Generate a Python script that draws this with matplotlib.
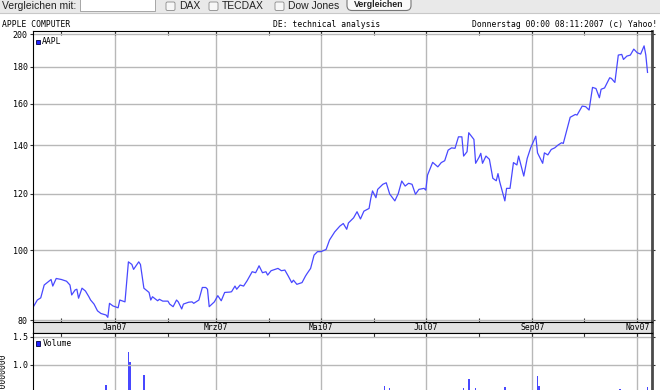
import pandas as pd
import matplotlib
matplotlib.use("Agg")
import matplotlib.pyplot as plt
import matplotlib.dates as mdates
import matplotlib.transforms as mtransforms
from matplotlib.patches import Rectangle, FancyBboxPatch

# Kursverlauf AAPL: Tage ab 01.01.2007 und Schlusskurs (USD)
tage = [-47, -45, -43, -41, -37, -36, -34, -31, -28, -26,
        -25, -23, -22, -21, -19, -17, -15, -14, -12, -10,
        -8, -5, -4, -3, -1, 2, 3, 6, 8, 10,
        11, 14, 15, 17, 20, 21, 22, 25, 26, 28,
        31, 32, 34, 36, 37, 39, 40, 43, 45, 46,
        49, 51, 53, 54, 55, 58, 60, 62, 64, 67,
        68, 70, 71, 73, 75, 77, 80, 82, 83, 84,
        86, 88, 89, 91, 95, 97, 99, 101, 103, 104,
        106, 109, 111, 112, 114, 116, 118, 120, 123, 125,
        128, 131, 133, 135, 136, 139, 141, 143, 145, 148,
        149, 150, 152, 153, 156, 158, 160, 163, 165, 167,
        169, 171, 173, 175, 177, 180, 181, 182, 185, 188,
        190, 192, 194, 196, 198, 200, 202, 203, 205, 206,
        209, 210, 212, 213, 214, 216, 218, 220, 222, 223,
        224, 227, 228, 230, 232, 234, 235, 238, 240, 242,
        245, 246, 249, 250, 252, 254, 256, 258, 260, 261,
        265, 268, 269, 272, 274, 276, 278, 280, 282, 283,
        285, 288, 289, 291, 293, 295, 296, 298, 300, 302,
        304, 306, 308, 309, 310]
kurs = [83.7, 85.3, 85.9, 89.5, 91.1, 89.2, 91.4, 91.1, 90.6, 89.5,
        86.7, 88.1, 88.3, 85.8, 88.6, 87.8, 86.2, 85.3, 84.2, 82.4,
        81.7, 81.3, 80.7, 84.4, 83.7, 83.2, 85.3, 84.8, 96.4, 95.6,
        94.1, 96.4, 95.6, 88.6, 87.4, 85.3, 86.2, 85.1, 85.5, 85.0,
        85.0, 84.2, 83.5, 85.3, 84.8, 82.9, 84.2, 84.7, 84.8, 84.4,
        85.3, 88.8, 88.8, 88.3, 83.5, 84.8, 86.5, 85.1, 87.4, 87.5,
        87.6, 89.2, 88.3, 89.5, 89.2, 90.7, 93.4, 93.1, 94.1, 95.2,
        93.1, 93.4, 92.4, 93.7, 94.4, 93.7, 93.9, 92.1, 90.2, 90.9,
        89.7, 90.2, 92.1, 92.9, 94.4, 98.5, 99.6, 99.6, 100.3, 103.4,
        106.1, 108.1, 109.0, 107.0, 109.2, 111.0, 113.2, 110.6, 113.4, 114.4,
        118.1, 121.0, 118.4, 121.6, 123.6, 124.2, 119.8, 117.2, 120.0, 124.9,
        122.9, 124.0, 123.6, 119.7, 121.6, 122.0, 121.3, 127.3, 132.6, 130.7,
        132.5, 133.3, 137.9, 138.9, 138.7, 143.9, 143.9, 135.3, 137.2, 145.8,
        142.7, 132.2, 134.8, 136.5, 132.2, 135.3, 133.9, 126.0, 125.0, 127.9,
        124.6, 117.2, 122.0, 122.0, 132.5, 131.5, 135.3, 126.9, 134.3, 138.9,
        144.2, 136.7, 132.2, 136.7, 135.8, 138.2, 138.9, 140.2, 141.2, 140.9,
        153.2, 154.6, 154.3, 158.8, 158.5, 156.8, 168.6, 168.0, 163.1, 167.6,
        168.3, 173.9, 173.5, 171.3, 187.0, 187.4, 184.4, 186.4, 187.0, 190.6,
        188.4, 187.6, 192.6, 187.0, 176.9]

# Volumen (x 100000000), nur die sichtbaren Spitzen
vol_tage = [-5, 8, 9, 17, 157, 160, 203, 206, 210, 227, 246, 247, 294, 310]
volumen = [0.63, 1.22, 1.05, 0.81, 0.62, 0.57, 0.57, 0.74, 0.58, 0.60, 0.80, 0.62, 0.56, 0.60]

y_ticks = [80, 100, 120, 140, 160, 180, 200]
vol_ticks = [1.0, 1.5]
monat_labels = ['Jan07', 'Mrz07', 'Mai07', 'Jul07', 'Sep07', 'Nov07']

start = pd.Timestamp('2007-01-01')
datum = start + pd.to_timedelta(tage, unit='D')
vol_datum = start + pd.to_timedelta(vol_tage, unit='D')
x0 = start + pd.Timedelta(days=-47.8)
x1 = start + pd.Timedelta(days=312.6)

plt.rcParams['font.family'] = ['DejaVu Sans Mono']
W, H = 660, 390
fig = plt.figure(figsize=(6.6, 3.9), dpi=100)


def box(l, t, r, b):
    return [l / W, 1 - b / H, (r - l) / W, (b - t) / H]


blau = '#4848ff'
gitter = '#b8b8b8'
rand = '#4a4a4a'
major = mdates.MonthLocator(bymonth=[1, 3, 5, 7, 9, 11])
minor = mdates.MonthLocator(bymonth=[2, 4, 6, 8, 10, 12])

# Kurs
ax = fig.add_axes(box(32.5, 31, 652, 322))
ax.plot(datum, kurs, color=blau, lw=0.9)
ax.set_yscale('log')
ax.set_ylim(79.5, 202)
ax.set_xlim(x0, x1)
ax.set_yticks(y_ticks)
ax.set_yticklabels([str(v) for v in y_ticks])
ax.yaxis.set_minor_locator(plt.NullLocator())
ax.yaxis.set_minor_formatter(plt.NullFormatter())
ax.xaxis.set_major_locator(major)
ax.xaxis.set_minor_locator(minor)
ax.grid(True, which='major', color=gitter, lw=1.0)
ax.tick_params(axis='x', which='both', direction='in', length=3, width=0.8,
               top=True, bottom=True, labelbottom=False, color='#333333')
ax.tick_params(axis='y', which='major', direction='out', length=2, width=0.8,
               left=True, right=True, labelsize=6, pad=1.5, color='#333333')

# Datumsleiste
band = fig.add_axes(box(32.5, 322, 652, 333), facecolor='#e2e2e2')
band.set_xlim(x0, x1)
band.set_ylim(0, 1)
band.set_xticks([])
band.set_yticks([])
tr = mtransforms.blended_transform_factory(band.transData, band.transAxes)
monate = [d for d in major.tick_values(x0, x1)]
for m, lab in zip(monate, monat_labels):
    band.text(m, 0.5, lab, transform=tr, ha='center', va='center', fontsize=5.8)

# Volumen
ax2 = fig.add_axes(box(32.5, 333, 652, 420))
ax2.bar(vol_datum, volumen, width=0.9, color=blau)
ax2.set_xlim(x0, x1)
ax2.set_ylim(0, 1.572)
ax2.set_yticks(vol_ticks)
ax2.set_yticklabels(['%.1f' % v for v in vol_ticks])
ax2.xaxis.set_major_locator(major)
ax2.xaxis.set_minor_locator(minor)
ax2.grid(True, which='major', color=gitter, lw=1.0)
ax2.tick_params(axis='x', which='both', direction='in', length=3, width=0.8,
                top=True, bottom=False, labelbottom=False, color='#333333')
ax2.tick_params(axis='y', which='major', direction='out', length=2, width=0.8,
                left=True, right=True, labelsize=6, pad=1.5, color='#333333')

for a in (ax, band, ax2):
    for s in ('top', 'bottom', 'left'):
        a.spines[s].set_color('black')
        a.spines[s].set_linewidth(0.8)
    a.spines['right'].set_color(rand)
    a.spines['right'].set_linewidth(2.0)

# Kopfzeile, Formular und Legenden in Pixelkoordinaten
ov = fig.add_axes([0, 0, 1, 1])
ov.set_xlim(0, W)
ov.set_ylim(H, 0)
ov.axis('off')

sans = 'Liberation Sans'
ov.add_patch(Rectangle((0, 0), W, 12.5, facecolor='#e9e9e9', edgecolor='none'))
ov.plot([0, W], [12.5, 12.5], color='#c8c8c8', lw=0.8)
ov.text(2, 6, 'Vergleichen mit:', family=sans, fontsize=7.5, va='center', color='#222222')
ov.add_patch(Rectangle((80, -1), 75, 12, facecolor='white', edgecolor='#9a9a9a', lw=0.6))
for cx, lab in [(166, 'DAX'), (209, 'TECDAX'), (275, 'Dow Jones')]:
    ov.add_patch(FancyBboxPatch((cx, 2), 9, 8.5, boxstyle='round,pad=0,rounding_size=1.5',
                                facecolor='#f7f7f7', edgecolor='#8a8a8a', lw=0.6))
    ov.text(cx + 13, 6, lab, family=sans, fontsize=7.5, va='center', color='#222222')
ov.add_patch(FancyBboxPatch((347, -4), 64, 14.5, boxstyle='round,pad=0,rounding_size=5',
                            facecolor='#fafafa', edgecolor='#777777', lw=0.8))
ov.text(379, 4.5, 'Vergleichen', family=sans, fontsize=6.3, fontweight='bold',
        ha='center', va='center', color='#222222')

ov.text(2, 24.5, 'APPLE COMPUTER', fontsize=5.8, va='center')
ov.text(273, 24.5, 'DE: technical analysis', fontsize=5.8, va='center')
ov.text(657, 24.5, 'Donnerstag 00:00 08:11:2007 (c) Yahoo!', fontsize=5.8, va='center', ha='right')

ov.add_patch(Rectangle((35.5, 39.5), 4.5, 4.5, facecolor='#2020ff', edgecolor='#000044', lw=0.6))
ov.text(42, 42, 'AAPL', fontsize=5.8, va='center')
ov.add_patch(Rectangle((35.5, 341), 4.5, 4.5, facecolor='#2020ff', edgecolor='#000044', lw=0.6))
ov.text(42.5, 343.5, 'Volume', fontsize=5.8, va='center')
ov.text(4, 354, 'x 100000000', fontsize=5.8, rotation=90, ha='center', va='top')

fig.savefig('out.png', dpi=100)
